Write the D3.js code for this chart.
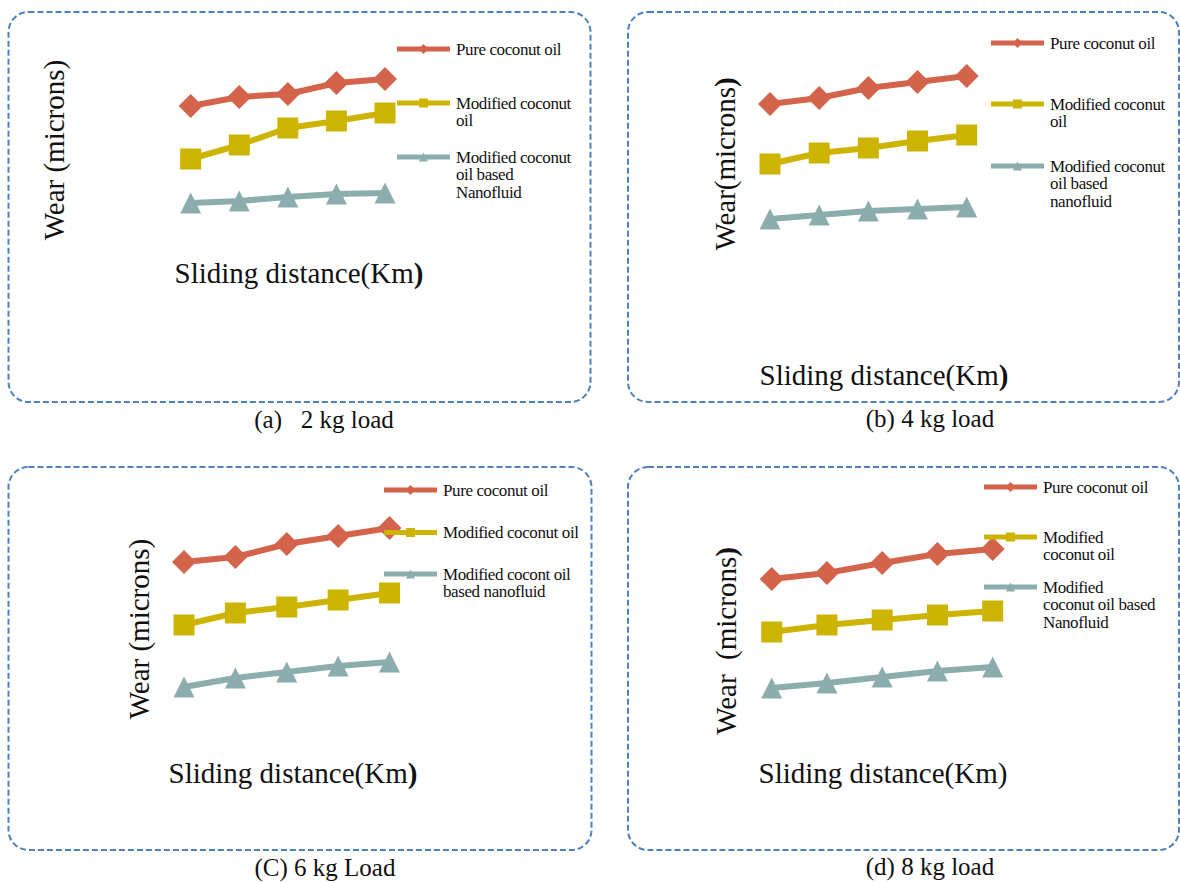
<!DOCTYPE html>
<html>
<head>
<meta charset="utf-8">
<script src="https://cdn.jsdelivr.net/npm/d3@7"></script>
<style>
  body { margin: 0; background: #fff; }
  svg, text, tspan { font-family: "Liberation Serif", "DejaVu Serif", serif; }
  text { fill: #111; }
</style>
</head>
<body>
<script>
// sliding distance steps (no ticks printed on the figure)
const distance = [1, 2, 3, 4, 5];

// wear, relative units (figure has no y ticks)
const pure2 = [124, 133, 136, 147, 151];
const modified2 = [71, 85, 102, 109, 117];
const nano2 = [27, 29, 33, 36, 37];

const pure4 = [136, 142, 152, 158, 164];
const modified4 = [76, 87, 92, 99, 105];
const nano4 = [21, 25, 29, 31, 33];

const pure6 = [148, 153, 166, 174, 182];
const modified6 = [85, 97, 103, 110, 117];
const nano6 = [23, 32, 38, 44, 48];

const pure8 = [131, 137, 147, 156, 161];
const modified8 = [78, 85, 90, 95, 99];
const nano8 = [22, 27, 33, 39, 43];

const captions = ["(a)\u00a0\u00a0 2 kg load", "(b) 4 kg load", "(C) 6 kg Load", "(d) 8 kg load"];
const wearTitles = ["Wear (microns", "Wear(microns", "Wear (microns", "Wear\u00a0 (microns"];
const legendA = [["Pure coconut oil"], ["Modified coconut", "oil"], ["Modified coconut", "oil based", "Nanofluid"]];
const legendB = [["Pure coconut oil"], ["Modified coconut", "oil"], ["Modified coconut", "oil based", "nanofluid"]];
const legendC = [["Pure coconut oil"], ["Modified coconut oil"], ["Modified cocont oil", "based nanofluid"]];
const legendD = [["Pure coconut oil"], ["Modified", "coconut oil"], ["Modified", "coconut oil based", "Nanofluid"]];

const colors = ["#d3634a", "#ccb400", "#8cadae"];

const w = 1180, h = 882;
const svg = d3.select("body").append("svg")
  .attr("width", w).attr("height", h)
  .attr("font-family", "Liberation Serif, serif");

// custom excel-like markers
const diamond = { draw(ctx, size) { const r = Math.sqrt(size) / 2; ctx.moveTo(0, -r); ctx.lineTo(r, 0); ctx.lineTo(0, r); ctx.lineTo(-r, 0); ctx.closePath(); } };
const square = { draw(ctx, size) { const r = Math.sqrt(size) / 2; ctx.rect(-r, -r, 2 * r, 2 * r); } };
const triangle = { draw(ctx, size) { const r = Math.sqrt(size) / 2; ctx.moveTo(0, -r); ctx.lineTo(r, r); ctx.lineTo(-r, r); ctx.closePath(); } };
const shapes = [diamond, square, triangle];
const bigSize = [24 * 24, 21 * 21, 21 * 21];
const smallSize = [10 * 10, 9 * 9, 9 * 9];

const panels = [
  { series: [pure2, modified2, nano2], legend: legendA, box: [8.5, 12, 582, 390], xr: [190.7, 385], yBase: 230,
    leg: { x: 397, ys: [49, 103, 157] }, wear: [64, 150], wearBold: false, slide: [299, 283], slideBold: true, cap: [324, 428] },
  { series: [pure4, modified4, nano4], legend: legendB, box: [628, 12, 551, 390], xr: [770, 966.7], yBase: 240,
    leg: { x: 991, ys: [43, 104, 166] }, wear: [735, 164], wearBold: true, slide: [884, 385], slideBold: true, cap: [930, 427] },
  { series: [pure6, modified6, nano6], legend: legendC, box: [8.5, 467, 583, 383], xr: [184, 389.5], yBase: 710,
    leg: { x: 384, ys: [490, 532.5, 574] }, wear: [149, 629], wearBold: false, slide: [293, 783], slideBold: true, cap: [325, 876] },
  { series: [pure8, modified8, nano8], legend: legendD, box: [628, 467, 551, 383], xr: [771.7, 992.7], yBase: 710,
    leg: { x: 984, ys: [487, 537, 587] }, wear: [736, 641], wearBold: true, slide: [883, 783], slideBold: false, cap: [930, 875] }
];

panels.forEach((p, pi) => {
  const g = svg.append("g");

  g.append("rect")
    .attr("x", p.box[0]).attr("y", p.box[1])
    .attr("width", p.box[2]).attr("height", p.box[3])
    .attr("rx", 20).attr("ry", 20)
    .attr("fill", "none")
    .attr("stroke", "#4f81bd")
    .attr("stroke-width", 2)
    .attr("stroke-dasharray", "6,3");

  const x = d3.scalePoint().domain(distance).range(p.xr);
  const y = d3.scaleLinear().domain([0, 200]).range([p.yBase, p.yBase - 200]);

  const line = d3.line().x((d, i) => x(distance[i])).y(d => y(d));

  p.series.forEach((vals, si) => {
    g.append("path")
      .datum(vals)
      .attr("d", line)
      .attr("fill", "none")
      .attr("stroke", colors[si])
      .attr("stroke-width", 6)
      .attr("stroke-linejoin", "round");
    g.selectAll(".m" + si)
      .data(vals)
      .enter().append("path")
      .attr("class", "m" + si)
      .attr("transform", (d, i) => `translate(${x(distance[i])},${y(d)})`)
      .attr("d", d3.symbol().type(shapes[si]).size(bigSize[si]))
      .attr("fill", colors[si]);
  });

  // legend
  p.legend.forEach((lines, si) => {
    const ly = p.leg.ys[si];
    g.append("line")
      .attr("x1", p.leg.x).attr("x2", p.leg.x + 53)
      .attr("y1", ly).attr("y2", ly)
      .attr("stroke", colors[si]).attr("stroke-width", 5);
    g.append("path")
      .attr("transform", `translate(${p.leg.x + 26.5},${ly})`)
      .attr("d", d3.symbol().type(shapes[si]).size(smallSize[si]))
      .attr("fill", colors[si]);
    const t = g.append("text")
      .attr("x", p.leg.x + 59)
      .attr("y", ly + 5.5)
      .attr("font-family", "Liberation Serif, serif")
      .attr("font-size", 17)
      .attr("letter-spacing", -0.4);
    t.selectAll("tspan")
      .data(lines)
      .enter().append("tspan")
      .attr("x", p.leg.x + 59)
      .attr("dy", (d, i) => i === 0 ? 0 : 17.5)
      .text(d => d);
  });

  // axis titles
  const wt = g.append("text")
    .attr("transform", `translate(${p.wear[0]},${p.wear[1]}) rotate(-90)`)
    .attr("text-anchor", "middle")
    .attr("font-family", "Liberation Serif, serif")
    .attr("font-size", 29);
  wt.append("tspan").text(wearTitles[pi]);
  wt.append("tspan").attr("font-weight", p.wearBold ? "bold" : "normal").text(")");

  const st = g.append("text")
    .attr("x", p.slide[0]).attr("y", p.slide[1])
    .attr("text-anchor", "middle")
    .attr("font-family", "Liberation Serif, serif")
    .attr("font-size", 29);
  st.append("tspan").text("Sliding distance(Km");
  st.append("tspan").attr("font-weight", p.slideBold ? "bold" : "normal").text(")");

  svg.append("text")
    .attr("x", p.cap[0]).attr("y", p.cap[1])
    .attr("text-anchor", "middle")
    .attr("font-family", "Liberation Serif, serif")
    .attr("font-size", 25)
    .text(captions[pi]);
});
</script>
</body>
</html>
